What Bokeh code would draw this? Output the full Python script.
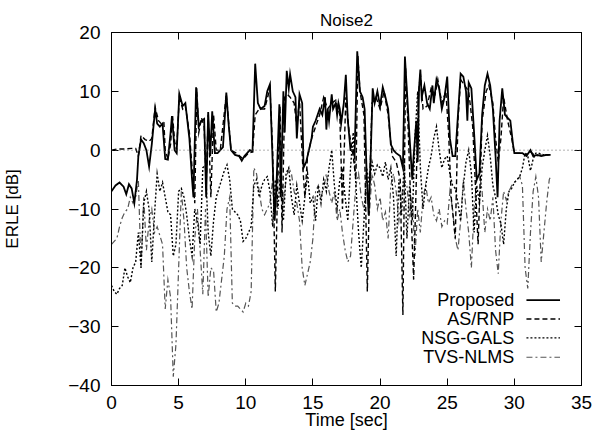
from bokeh.plotting import figure
from bokeh.models import Range1d, FixedTicker, LinearAxis, Span, Label, Arrow
from bokeh.embed import file_html
from bokeh.resources import INLINE

# ---------------- data ----------------
title_text = "Noise2"
x_label = "Time [sec]"
y_label = "ERLE [dB]"
x_ticks = [0, 5, 10, 15, 20, 25, 30, 35]
y_ticks = [-40, -30, -20, -10, 0, 10, 20]
series_names = ["Proposed", "AS/RNP", "NSG-GALS", "TVS-NLMS"]

prop_t = [0, 0.3, 0.6, 0.9, 1.1, 1.3, 1.5, 1.7, 1.9, 2.0, 2.2, 2.4, 2.6, 2.8, 3.0, 3.25, 3.4, 3.6, 3.8, 4.0,
          4.2, 4.4, 4.5, 4.7, 4.85, 5.05, 5.3, 5.5, 5.8, 6.0, 6.1, 6.3, 6.5, 6.7, 6.9, 7.05, 7.2, 7.35, 7.5, 7.7,
          7.9, 8.1, 8.3, 8.55, 8.7, 8.9, 9.2, 9.5, 9.7, 9.9, 10.1, 10.3, 10.5, 10.7, 10.9, 11.1, 11.4, 11.6, 11.8, 12.0,
          12.15, 12.3, 12.5, 12.6, 12.8, 12.9, 13.05, 13.2, 13.3, 13.5, 13.7, 13.8, 14.0, 14.2, 14.3, 14.5, 14.7, 14.9, 15.0, 15.2,
          15.5, 15.7, 15.9, 16.0, 16.1, 16.2, 16.4, 16.5, 16.7, 16.8, 16.9, 17.0, 17.1, 17.3, 17.45, 17.6, 17.8, 18.0, 18.1, 18.3,
          18.5, 18.7, 18.85, 19.0, 19.15, 19.3, 19.45, 19.6, 19.8, 20.0, 20.2, 20.4, 20.6, 20.8, 21.0, 21.2, 21.5, 21.7, 21.85, 22.0,
          22.2, 22.4, 22.5, 22.7, 22.8, 22.9, 23.0, 23.1, 23.3, 23.5, 23.7, 23.9, 24.0, 24.2, 24.4, 24.6, 24.8, 25.0, 25.2, 25.4,
          25.6, 25.8, 26.0, 26.2, 26.4, 26.5, 26.6, 26.8, 27.0, 27.2, 27.4, 27.6, 27.8, 28.0, 28.2, 28.4, 28.6, 28.75, 28.9, 29.1,
          29.3, 29.5, 29.7, 29.9, 30.0, 30.3, 30.6, 30.9, 31.2, 31.4, 31.7, 32.0, 32.4, 32.7]
prop_v = [-7, -6, -5.5, -6.2, -7.5, -5.8, -6.5, -9, -5, -1, 1.8, 1.2, 0, -2.8, 1, 7, 4.5, 4, 4.5, -1.5,
          -1.6, 3, 5.8, 0, -0.5, 9.6, 7.5, 8, 2, -5, -8, 10.7, 4, 5, 5.3, -8, 6.5, -1, 6.6, -0.5,
          -0.5, 0, 0.5, 9.8, 5, 0, -0.8, -1, -1.8, -1, -0.5, 0, -0.2, 14.7, 8, 7, 7.5, 10, 11.2, -2,
          -12, -5, 7.8, -8, 10, 3, 13.5, 10.5, 12.9, 10, 9, 2, 9.5, 8, -3, -2, 0, 2, 4, 5,
          7, 6, 9, 3.5, 7, 5, 9.5, 7, 8, 6, 8, 7, 4.5, 8, 12.8, 5, 0, 0, -1, 16.8,
          10, 9, 7, -4, -11, -1, 10.5, 8, 10, 7.5, 10.7, 9, 7, 1, 0, -0.5, -1, -3, 15.9, 10,
          2, -5, -1, 5, -2, 10.5, 13.7, 9, 11, 8, 7, 11, 8, 12, 10.5, 7, 9, 12.5, 2, -1,
          -1, 6, 13, 12.5, 10, 5, 11.5, 10.5, 3, -5, -4, 6, 11, 13, 11, 7, -1, -8, 5, 10.5,
          6, 5.5, 5, 1, -0.5, -0.5, -0.5, -1, 0, -1, -0.8, -1, -0.8, -0.8]

asrnp_t = [0, 0.5, 1.0, 1.5, 1.8, 2.0, 2.2, 2.5, 2.8, 3.0, 3.25, 3.5, 3.7, 3.9, 4.0, 4.2, 4.4, 4.55, 4.7, 4.85,
           5.05, 5.3, 5.5, 5.8, 6.0, 6.2, 6.35, 6.5, 6.7, 6.9, 7.05, 7.2, 7.4, 7.6, 7.8, 8.1, 8.55, 8.9, 9.3, 9.8,
           10.2, 10.5, 10.7, 11.0, 11.4, 11.8, 12.0, 12.2, 12.35, 12.55, 12.7, 12.9, 13.1, 13.3, 13.6, 13.8, 14.0, 14.25, 14.4, 14.6,
           14.9, 15.2, 15.5, 15.8, 16.1, 16.4, 16.7, 17.0, 17.2, 17.45, 17.7, 18.0, 18.2, 18.35, 18.5, 18.8, 19.05, 19.2, 19.4, 19.7,
           20.0, 20.3, 20.6, 20.9, 21.2, 21.5, 21.7, 21.9, 22.1, 22.3, 22.5, 22.7, 22.85, 23.0, 23.2, 23.5, 23.8, 24.1, 24.3, 24.6,
           24.9, 25.1, 25.3, 25.6, 25.8, 26.0, 26.3, 26.6, 26.9, 27.1, 27.3, 27.6, 27.9, 28.1, 28.4, 28.6, 28.8, 29.0, 29.2, 29.5,
           29.8, 30.0, 30.4, 30.8, 31.2, 31.6, 32.0, 32.7]
asrnp_v = [0, 0.2, 0.2, 0.3, 0.3, -1, 2.5, 1.8, 1.5, 2, 7.3, 5, 4.5, 4.8, 0, -1.5, 1, 5.8, 1.5, 0,
           9, 7, 7.5, 3, -3, -9, 10.5, 3, 5.5, 4, -6, 6, -8, 6, 0, 0, 9.5, 0, -0.5, -1.5,
           -0.5, -0.3, 6, 7, 7, 10.5, 0, -24, -8, 7.5, -14, 9, 9.5, 9, 8, 4, 8.5, -3, -8, -1,
           2, 4, 6, 9, 7, 8, 8.5, 6, -10, 9, 3, -1, -5, 16, 10, 6, -24, -8, 8, 9,
           7, 10, 6, -1, -2, -5, -28, 14, 3, -10, -22, -5, 9, 13, 7, 7.5, 10.5, 9.5, 12, 8,
           10, 3, -8, -15, 5, 12, 11, 10, 4, -6, -16, 5, 10, 11, 8, 2, -2, 2, 9, 5,
           2, -0.5, -0.5, -0.8, -0.3, -1, -0.8, -0.8]

nsg_t = [0.0, 0.2, 0.4, 0.6, 0.8, 1.0, 1.2, 1.4, 1.6, 1.8, 2.0, 2.2, 2.4, 2.6, 2.8, 3.0, 3.2, 3.4, 3.6, 3.8,
         4.0, 4.2, 4.4, 4.6, 4.8, 5.0, 5.2, 5.4, 5.6, 5.8, 6.0, 6.2, 6.4, 6.6, 6.8, 7.0, 7.2, 7.4, 7.6, 7.8,
         8.0, 8.2, 8.4, 8.6, 8.8, 9.0, 9.2, 9.4, 9.6, 9.8, 10.0, 10.2, 10.4, 10.6, 10.8, 11.0, 11.2, 11.4, 11.6, 11.8,
         12.0, 12.2, 12.4, 12.6, 12.8, 13.0, 13.2, 13.4, 13.6, 13.8, 14.0, 14.2, 14.4, 14.6, 14.8, 15.0, 15.2, 15.4, 15.6, 15.8,
         16.0, 16.2, 16.4, 16.6, 16.8, 17.0, 17.2, 17.4, 17.6, 17.8, 18.0, 18.2, 18.4, 18.6, 18.8, 19.0, 19.2, 19.4, 19.6, 19.8,
         20.0, 20.2, 20.4, 20.6, 20.8, 21.0, 21.2, 21.4, 21.6, 21.8, 22.0, 22.2, 22.4, 22.6, 22.8, 23.0, 23.2, 23.4, 23.6, 23.8,
         24.0, 24.2, 24.4, 24.6, 24.8, 25.0, 25.2, 25.4, 25.6, 25.8, 26.0, 26.2, 26.4, 26.6, 26.8, 27.0, 27.2, 27.4, 27.6, 27.8,
         28.0, 28.2, 28.4, 28.6, 28.8, 29.0, 29.2, 29.4, 29.6, 29.8, 30.0, 30.2, 30.4, 30.6, 30.8, 31.0, 31.2, 31.4, 31.6, 31.8,
         32.0, 32.2, 32.4, 32.6]
nsg_v = [-23, -24, -24.5, -23.5, -23, -20, -21.5, -22.5, -20, -19, -14, -20, -9, -7, -10, -19, -11, -4, -7, -5.5,
         -8, -10.5, -11, -18, -16, -7, -6.5, -8, -11, -15, -18, -10, -12, -16, -3, -2.5, -14, -18, -12, -8,
         -6.5, -5, -3.5, -2.5, -5, -10, -10.5, -11, -12, -15.5, -15, -14, -13, -6, -5, -8, -6, -5, -4.5, -7,
         -13, -5, -10, -3, -12, -4, -3, -8, -11, -6, -9, -12, -8, -4, -9, -8, -12, -6, -9, -5,
         -7, -3, 0, -6, -10, -5, -3.5, -8, -12, -3, 3, -6, -14, -20, -12, -3, -6, -2, -4, -2.5,
         -3, -4.5, -2, -5, -3, -8, -18, -5, -11, -2, -15, -6, -12, 2, 10, -3, -10, -6, -3, -1,
         2, 4, 0, -3, -1.5, -1, -4, -6, -6.5, -9, -12, -6, -2, 0, -4, -14, -6, -9, -3, 0,
         2.5, -1, -6, -8, -11, -12.5, -16, -10, -7, -6.5, -5.5, -5, -4.5, -3, -0.5, -1, -3.5, -1.5, -0.5, -0.5,
         -0.7, -0.8, -0.8, -0.8]

tvs_t = [0.0, 0.2, 0.4, 0.6, 0.8, 1.0, 1.2, 1.4, 1.6, 1.8, 2.0, 2.2, 2.4, 2.6, 2.8, 3.0, 3.2, 3.4, 3.6, 3.8,
         4.0, 4.2, 4.4, 4.6, 4.8, 5.0, 5.2, 5.4, 5.6, 5.8, 6.0, 6.2, 6.4, 6.6, 6.8, 7.0, 7.2, 7.4, 7.6, 7.8,
         8.0, 8.2, 8.4, 8.6, 8.8, 9.0, 9.2, 9.4, 9.6, 9.8, 10.0, 10.2, 10.4, 10.6, 10.8, 11.0, 11.2, 11.4, 11.6, 11.8,
         12.0, 12.2, 12.4, 12.6, 12.8, 13.0, 13.2, 13.4, 13.6, 13.8, 14.0, 14.2, 14.4, 14.6, 14.8, 15.0, 15.2, 15.4, 15.6, 15.8,
         16.0, 16.2, 16.4, 16.6, 16.8, 17.0, 17.2, 17.4, 17.6, 17.8, 18.0, 18.2, 18.4, 18.6, 18.8, 19.0, 19.2, 19.4, 19.6, 19.8,
         20.0, 20.2, 20.4, 20.6, 20.8, 21.0, 21.2, 21.4, 21.6, 21.8, 22.0, 22.2, 22.4, 22.6, 22.8, 23.0, 23.2, 23.4, 23.6, 23.8,
         24.0, 24.2, 24.4, 24.6, 24.8, 25.0, 25.2, 25.4, 25.6, 25.8, 26.0, 26.2, 26.4, 26.6, 26.8, 27.0, 27.2, 27.4, 27.6, 27.8,
         28.0, 28.2, 28.4, 28.6, 28.8, 29.0, 29.2, 29.4, 29.6, 29.8, 30.0, 30.2, 30.4, 30.6, 30.8, 31.0, 31.2, 31.4, 31.6, 31.8,
         32.0, 32.2, 32.4, 32.6, 32.7]
tvs_v = [-16, -15.5, -15, -13, -11.5, -10.5, -10, -8, -9, -8, -5, -20, -8, -17, -12, -10, -14, -13, -14.5, -16,
         -27, -22, -25, -38.5, -33, -20, -7, -12, -20, -24, -27, -15, -10, -17, -24.5, -10, -25, -20, -20.5, -27.5,
         -26, -22, -18, -10, -8, -26, -26.5, -26.5, -27, -27.5, -26, -26.5, -24, -3, -4, -7, -10, -11, -10, -9,
         -5, -10, -3.5, -4, -9, -5, -3, -4, -7, -9, -12, -20, -23, -21, -19, -15, -7, -6, -8, -6.5,
         -4, -7, -9, -7, -12, -10, -14, -17, -19, -18, -12, -6, -4, -8, -10, -7, -11, -4, -6, -10,
         -8, -12, -10.5, -15, -6, -4, -7, -12, -8, -5, -6, -11, -8, -18, -10, -14, -8, -6, -9, -8,
         -11, -12, -10, -13, -12, -12.5, -7, -10, -15, -17, -12, -5, -10, -14, -20, -10, -5, -4, -7, -14,
         -10, -12, -8, -17, -21, -12, -7, -8.5, -7, -6, -5.5, -5, -4.5, -6, -20, -23.5, -14, -7, -4.5, -8,
         -19, -14, -9, -5, -4.5]

# ---------------- figure ----------------
FONT = "Liberation Sans"

p = figure(width=592, height=435, x_range=Range1d(0, 35), y_range=Range1d(-40, 20),
           output_backend="svg", toolbar_location=None,
           min_border_left=106, min_border_right=11, min_border_top=32, min_border_bottom=50,
           title=title_text)
p.title.align = "center"
p.title.text_font = FONT
p.title.text_font_size = "17px"
p.title.text_font_style = "normal"
p.title.text_color = "black"
p.title.standoff = 6
p.title.offset = 0

p.grid.visible = False
p.outline_line_color = "black"
p.outline_line_width = 1
p.background_fill_color = "white"
p.border_fill_color = "white"

for ax in p.xaxis:
    ax.ticker = FixedTicker(ticks=x_ticks)
    ax.axis_label = x_label
for ax in p.yaxis:
    ax.ticker = FixedTicker(ticks=y_ticks)
    ax.axis_label = y_label

for ax in list(p.xaxis) + list(p.yaxis):
    ax.major_tick_in = 7
    ax.major_tick_out = 0
    ax.minor_tick_line_color = None
    ax.axis_line_color = "black"
    ax.major_tick_line_color = "black"
    ax.major_label_text_font = FONT
    ax.major_label_text_font_size = "19px"
    ax.major_label_text_color = "black"
    ax.axis_label_text_font = FONT
    ax.axis_label_text_font_style = "normal"
    ax.axis_label_text_color = "black"

p.xaxis.major_label_standoff = 10
p.xaxis.axis_label_standoff = -2
p.xaxis.axis_label_text_font_size = "18px"
p.yaxis.major_label_standoff = 11
p.yaxis.axis_label_standoff = 43
p.yaxis.axis_label_text_font_size = "17px"

# mirror ticks on top and right (labels not drawn)
top_ax = LinearAxis(ticker=FixedTicker(ticks=x_ticks), major_tick_in=7, major_tick_out=0,
                    minor_tick_line_color=None, major_label_text_font_size="1px",
                    major_label_text_color=None, major_label_standoff=0, axis_line_color="black")
right_ax = LinearAxis(ticker=FixedTicker(ticks=y_ticks), major_tick_in=7, major_tick_out=0,
                      minor_tick_line_color=None, major_label_text_font_size="1px",
                      major_label_text_color=None, major_label_standoff=0, axis_line_color="black")
p.add_layout(top_ax, "above")
p.add_layout(right_ax, "right")

# zero axis (dotted)
p.add_layout(Span(location=0, dimension="width", line_color="#666666",
                  line_dash="1 3", line_width=1))

styles = [
    dict(line_color="black", line_width=1.8, line_dash="solid"),
    dict(line_color="black", line_width=1.4, line_dash="5 3"),
    dict(line_color="black", line_width=1.4, line_dash="2 2"),
    dict(line_color="#555555", line_width=1.2, line_dash="6 3 2 3"),
]
data = [(prop_t, prop_v), (asrnp_t, asrnp_v), (nsg_t, nsg_v), (tvs_t, tvs_v)]

# draw back to front
for (t, v), st in reversed(list(zip(data, styles))):
    p.line(t, v, line_join="miter", **st)

# key (gnuplot style: text then sample), placed in data units at bottom-right
key_text_x = 30.0
key_line_x0, key_line_x1 = 30.9, 33.4
key_y = [-25.5, -28.7, -31.9, -35.2]
for name, st, yy in zip(series_names, styles, key_y):
    p.add_layout(Label(x=key_text_x, y=yy, text=name, text_align="right",
                       text_baseline="middle", text_font=FONT, text_font_size="18px",
                       text_color="black"))
    p.add_layout(Arrow(end=None, x_start=key_line_x0, y_start=yy, x_end=key_line_x1, y_end=yy,
                       line_color=st["line_color"], line_width=st["line_width"],
                       line_dash=st["line_dash"]))

open("out.html", "w").write(file_html(p, INLINE))
